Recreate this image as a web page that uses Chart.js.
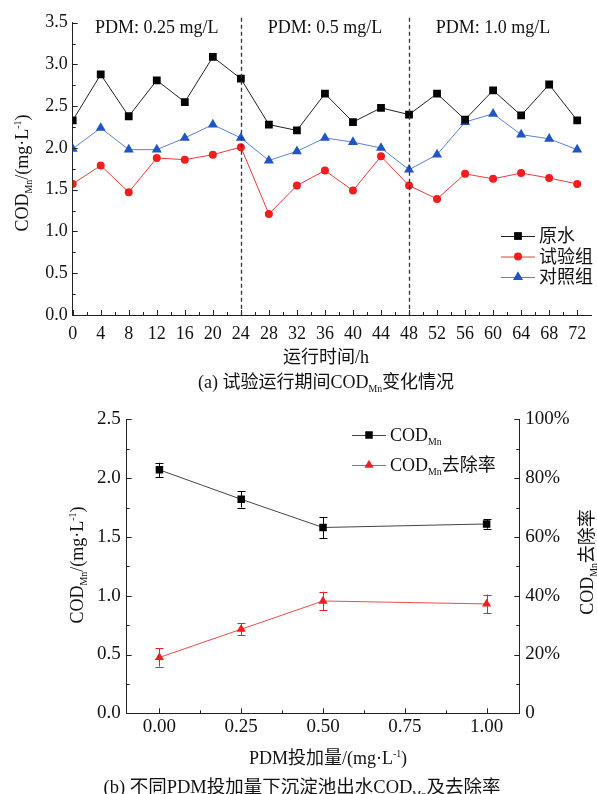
<!DOCTYPE html>
<html>
<head>
<meta charset="utf-8">
<script src="https://cdn.jsdelivr.net/npm/chart.js@4.4.1/dist/chart.umd.min.js"></script>
<style>
  body { margin: 0; background: #fff; width: 597px; height: 794px; overflow: hidden; position: relative; }
  canvas { position: absolute; left: 0; }
  #c1 { top: 0; }
  #c2 { top: 400px; }
</style>
</head>
<body>
<canvas id="c1" width="597" height="400" style="width:597px;height:400px"></canvas>
<canvas id="c2" width="597" height="394" style="width:597px;height:394px"></canvas>
<script>
// (a) COD_Mn during the trial run
let hours = [0, 4, 8, 12, 16, 20, 24, 28, 32, 36, 40, 44, 48, 52, 56, 60, 64, 68, 72];
let rawWater = [2.33, 2.88, 2.38, 2.81, 2.55, 3.09, 2.83, 2.28, 2.21, 2.65, 2.31, 2.48, 2.40, 2.65, 2.34, 2.69, 2.39, 2.76, 2.33];
let testGroup = [1.57, 1.79, 1.47, 1.88, 1.86, 1.92, 2.01, 1.21, 1.55, 1.73, 1.49, 1.90, 1.55, 1.39, 1.69, 1.63, 1.70, 1.64, 1.57];
let controlGroup = [1.99, 2.24, 1.98, 1.98, 2.12, 2.28, 2.12, 1.85, 1.96, 2.12, 2.07, 2.00, 1.74, 1.92, 2.31, 2.41, 2.16, 2.11, 1.98];
let stageBreaks = [24, 48];
let stageCenters = [12, 36, 60];
let stageLabels = ["PDM: 0.25 mg/L", "PDM: 0.5 mg/L", "PDM: 1.0 mg/L"];

// (b) settling tank effluent vs PDM dose
let doses = [0, 0.25, 0.5, 1.0];
let doseTicks = [0, 0.25, 0.5, 0.75, 1.0];
let codMn = [2.07, 1.82, 1.58, 1.61];
let codErr = [0.06, 0.07, 0.09, 0.04];
let removal = [19.0, 28.6, 38.2, 37.2];
let removalErr = [3.1, 2.0, 3.2, 3.2];

const serif = '"Liberation Serif", "Noto Sans CJK SC", serif';
function font(s) { return s + 'px ' + serif; }

// parts: [text, kind]  kind 0 normal, 1 subscript, 2 superscript
function richText(ctx, parts, x, y, size, align, rot) {
  ctx.save();
  ctx.translate(x, y);
  if (rot) ctx.rotate(rot);
  let w = 0;
  parts.forEach(p => {
    ctx.font = font(p[1] ? size * 0.55 : size);
    w += ctx.measureText(p[0]).width;
  });
  let cx = align === 'left' ? 0 : (align === 'right' ? -w : -w / 2);
  ctx.textAlign = 'left';
  ctx.textBaseline = 'alphabetic';
  ctx.fillStyle = '#111';
  let base = size * 0.35;
  parts.forEach(p => {
    let s = p[1] ? size * 0.55 : size;
    ctx.font = font(s);
    let dy = p[1] === 1 ? size * 0.22 : (p[1] === 2 ? -size * 0.38 : 0);
    ctx.fillText(p[0], cx, base + dy);
    cx += ctx.measureText(p[0]).width;
  });
  ctx.restore();
}

function drawMarker(ctx, style, x, y, r, color) {
  ctx.save();
  ctx.fillStyle = color;
  ctx.beginPath();
  if (style === 'rect') {
    let s = r * Math.SQRT1_2;
    ctx.rect(x - s, y - s, 2 * s, 2 * s);
  } else if (style === 'circle') {
    ctx.arc(x, y, r, 0, Math.PI * 2);
  } else {
    ctx.moveTo(x, y - r);
    ctx.lineTo(x + r * 0.866, y + r * 0.5);
    ctx.lineTo(x - r * 0.866, y + r * 0.5);
    ctx.closePath();
  }
  ctx.fill();
  ctx.restore();
}

// inward tick marks, major at the scale ticks, minor half way
function inTicks(ctx, scale) {
  let major = scale.ticks.map(t => t.value);
  let minor = [];
  for (let i = 1; i < major.length; i++) minor.push((major[i - 1] + major[i]) / 2);
  ctx.save();
  ctx.strokeStyle = '#222';
  ctx.lineWidth = 1;
  ctx.beginPath();
  [[major, 5], [minor, 3]].forEach(([vals, len]) => {
    vals.forEach(v => {
      let p = Math.round(scale.getPixelForValue(v)) + 0.5;
      if (scale.position === 'bottom') {
        ctx.moveTo(p, scale.top); ctx.lineTo(p, scale.top - len);
      } else if (scale.position === 'left') {
        ctx.moveTo(scale.right, p); ctx.lineTo(scale.right + len, p);
      } else {
        ctx.moveTo(scale.left, p); ctx.lineTo(scale.left - len, p);
      }
    });
  });
  ctx.stroke();
  ctx.restore();
}

function drawLegend(ctx, chart, x0, y0, gap, items) {
  items.forEach((it, i) => {
    let ds = chart.data.datasets[i];
    let y = y0 + i * gap;
    ctx.save();
    ctx.strokeStyle = ds.borderColor;
    ctx.lineWidth = 1;
    ctx.beginPath();
    ctx.moveTo(x0, y + 0.5);
    ctx.lineTo(x0 + 34, y + 0.5);
    ctx.stroke();
    ctx.restore();
    drawMarker(ctx, ds.pointStyle, x0 + 17, y, ds.pointRadius, ds.pointBackgroundColor);
    richText(ctx, it, x0 + 38, y, 18, 'left');
  });
}

const errorBars = {
  id: 'errorBars',
  afterDatasetsDraw(chart) {
    let ctx = chart.ctx;
    chart.data.datasets.forEach((ds, i) => {
      if (!ds.errors) return;
      let meta = chart.getDatasetMeta(i);
      let ys = chart.scales[meta.yAxisID];
      ctx.save();
      ctx.strokeStyle = ds.pointBackgroundColor;
      ctx.lineWidth = 1;
      ctx.beginPath();
      meta.data.forEach((pt, j) => {
        let v = ds.data[j].y, e = ds.errors[j];
        let top = ys.getPixelForValue(v + e), bot = ys.getPixelForValue(v - e);
        let x = Math.round(pt.x) + 0.5;
        ctx.moveTo(x, top); ctx.lineTo(x, bot);
        ctx.moveTo(x - 4, Math.round(top) + 0.5); ctx.lineTo(x + 4, Math.round(top) + 0.5);
        ctx.moveTo(x - 4, Math.round(bot) + 0.5); ctx.lineTo(x + 4, Math.round(bot) + 0.5);
      });
      ctx.stroke();
      ctx.restore();
    });
  }
};

function xy(xs, ys) { return xs.map((x, i) => ({ x: x, y: ys[i] })); }

let axisBorder = { display: true, color: '#222', width: 1 };

// ---------- chart (a) ----------
const decorA = {
  id: 'decorA',
  afterDraw(chart) {
    let ctx = chart.ctx, xs = chart.scales.x, ys = chart.scales.y;
    inTicks(ctx, xs);
    inTicks(ctx, ys);
    ctx.save();
    ctx.strokeStyle = '#333';
    ctx.lineWidth = 1.3;
    ctx.setLineDash([4, 3]);
    stageBreaks.forEach(h => {
      let px = Math.round(xs.getPixelForValue(h)) + 0.5;
      ctx.beginPath();
      ctx.moveTo(px, ys.getPixelForValue(3.56));
      ctx.lineTo(px, ys.getPixelForValue(0));
      ctx.stroke();
    });
    ctx.restore();
    stageLabels.forEach((t, i) => {
      richText(ctx, [[t, 0]], xs.getPixelForValue(stageCenters[i]), ys.getPixelForValue(3.45), 18, 'center');
    });
    richText(ctx, [["COD", 0], ["Mn", 1], ["/(mg·L", 0], ["-1", 2], [")", 0]], 22, 173, 18, 'center', -Math.PI / 2);
    richText(ctx, [["运行时间/h", 0]], 326, 357, 18, 'center');
    richText(ctx, [["(a) 试验运行期间COD", 0], ["Mn", 1], ["变化情况", 0]], 326, 382, 18, 'center');
    drawLegend(ctx, chart, 501, 236, 20.5, [[["原水", 0]], [["试验组", 0]], [["对照组", 0]]]);
  }
};

new Chart(document.getElementById('c1'), {
  type: 'line',
  data: {
    datasets: [
      { label: '原水', data: xy(hours, rawWater), borderColor: '#222', borderWidth: 1,
        pointStyle: 'rect', pointRadius: 5.5, pointBackgroundColor: '#000', pointBorderWidth: 0 },
      { label: '试验组', data: xy(hours, testGroup), borderColor: '#f03a3a', borderWidth: 1,
        pointStyle: 'circle', pointRadius: 4, pointBackgroundColor: '#f01e1e', pointBorderWidth: 0 },
      { label: '对照组', data: xy(hours, controlGroup), borderColor: '#5a82d2', borderWidth: 1,
        pointStyle: 'triangle', pointRadius: 5.8, pointBackgroundColor: '#1f56c2', pointBorderWidth: 0 }
    ]
  },
  options: {
    responsive: false,
    animation: false,
    layout: { padding: { top: 22.7, right: 4, left: 0, bottom: 0 } },
    plugins: { legend: { display: false }, tooltip: { enabled: false } },
    scales: {
      x: {
        type: 'linear', min: 0, max: 74,
        afterBuildTicks: s => { s.ticks = hours.map(v => ({ value: v })); },
        afterFit: s => { s.height = 85; },
        grid: { display: false, drawTicks: false },
        border: axisBorder,
        ticks: { padding: 8, color: '#111', font: { family: serif, size: 18 } }
      },
      y: {
        min: 0, max: 3.5,
        afterFit: s => { s.width = 72.7; },
        grid: { display: false, drawTicks: false },
        border: axisBorder,
        ticks: { stepSize: 0.5, padding: 5, color: '#111', font: { family: serif, size: 18 },
          callback: v => v.toFixed(1) }
      }
    }
  },
  plugins: [decorA]
});

// ---------- chart (b) ----------
const decorB = {
  id: 'decorB',
  afterDraw(chart) {
    let ctx = chart.ctx;
    inTicks(ctx, chart.scales.x);
    inTicks(ctx, chart.scales.y);
    inTicks(ctx, chart.scales.y2);
    richText(ctx, [["COD", 0], ["Mn", 1], ["/(mg·L", 0], ["-1", 2], [")", 0]], 77, 165, 18, 'center', -Math.PI / 2);
    richText(ctx, [["COD", 0], ["Mn", 1], ["去除率", 0]], 587, 162, 18, 'center', -Math.PI / 2);
    richText(ctx, [["PDM投加量/(mg·L", 0], ["-1", 2], [")", 0]], 328, 358, 18, 'center');
    richText(ctx, [["(b) 不同PDM投加量下沉淀池出水COD", 0], ["Mn", 1], ["及去除率", 0]], 302, 387, 18.5, 'center');
    drawLegend(ctx, chart, 352, 35, 30, [[["COD", 0], ["Mn", 1]], [["COD", 0], ["Mn", 1], ["去除率", 0]]]);
  }
};

new Chart(document.getElementById('c2'), {
  type: 'line',
  data: {
    datasets: [
      { label: 'COD', data: xy(doses, codMn), errors: codErr, yAxisID: 'y',
        borderColor: '#444', borderWidth: 1,
        pointStyle: 'rect', pointRadius: 5.3, pointBackgroundColor: '#000', pointBorderWidth: 0 },
      { label: 'removal', data: xy(doses, removal), errors: removalErr, yAxisID: 'y2',
        borderColor: '#f24a4a', borderWidth: 1,
        pointStyle: 'triangle', pointRadius: 5.3, pointBackgroundColor: '#f01e1e', pointBorderWidth: 0 }
    ]
  },
  options: {
    responsive: false,
    animation: false,
    layout: { padding: { top: 19.3, right: 0, left: 0, bottom: 0 } },
    plugins: { legend: { display: false }, tooltip: { enabled: false } },
    scales: {
      x: {
        type: 'linear', min: -0.1, max: 1.1,
        afterBuildTicks: s => { s.ticks = doseTicks.map(v => ({ value: v })); },
        afterFit: s => { s.height = 80.7; },
        grid: { display: false, drawTicks: false },
        border: axisBorder,
        ticks: { padding: 2, color: '#111', font: { family: serif, size: 19 }, callback: v => v.toFixed(2) }
      },
      y: {
        position: 'left', min: 0, max: 2.5,
        afterFit: s => { s.width = 126.7; },
        grid: { display: false, drawTicks: false },
        border: axisBorder,
        ticks: { stepSize: 0.5, padding: 6, color: '#111', font: { family: serif, size: 19 },
          callback: v => v.toFixed(1) }
      },
      y2: {
        position: 'right', min: 0, max: 100,
        afterFit: s => { s.width = 77.7; },
        grid: { display: false, drawTicks: false },
        border: axisBorder,
        ticks: { stepSize: 20, padding: 6, color: '#111', font: { family: serif, size: 19 },
          callback: v => v === 0 ? '0' : v + '%' }
      }
    }
  },
  plugins: [errorBars, decorB]
});
</script>
</body>
</html>
